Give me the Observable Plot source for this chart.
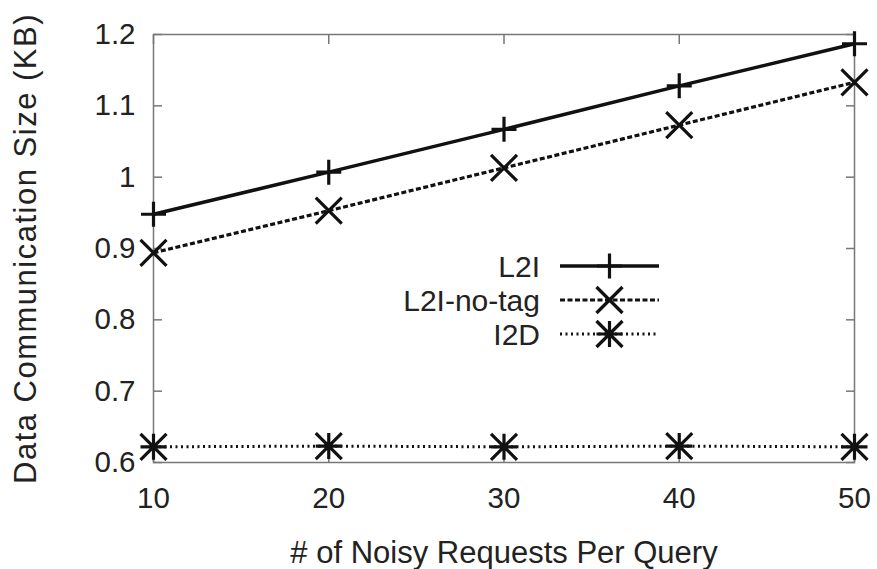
<!DOCTYPE html>
<html>
<head>
<meta charset="utf-8">
<script src="https://cdn.jsdelivr.net/npm/d3@7"></script>
<script src="https://cdn.jsdelivr.net/npm/@observablehq/plot@0.6"></script>
<style>
  html, body { margin: 0; padding: 0; background: #fff; }
  #chart { position: relative; width: 877px; height: 569px; }
  svg { font-family: "Liberation Sans", Arial, Helvetica, sans-serif; }
</style>
</head>
<body>
<div id="chart"></div>
<script>
// ---- data ----
const requests = [10, 20, 30, 40, 50];
const l2i      = [0.948, 1.007, 1.067, 1.128, 1.187];
const l2iNoTag = [0.894, 0.953, 1.013, 1.073, 1.133];
const i2d      = [0.622, 0.623, 0.622, 0.623, 0.622];
const seriesNames = ["L2I", "L2I-no-tag", "I2D"];
const yTicks = [0.6, 0.7, 0.8, 0.9, 1.0, 1.1, 1.2];
const xTicks = [10, 20, 30, 40, 50];
const xLabel = "# of Noisy Requests Per Query";
const yLabel = "Data Communication Size (KB)";

// ---- custom stroke symbols (size = pi r^2, arm length = r) ----
const plusSym = { draw(ctx, size) { const r = Math.sqrt(size / Math.PI);
  ctx.moveTo(-r, 0); ctx.lineTo(r, 0); ctx.moveTo(0, -r); ctx.lineTo(0, r); } };
const timesSym = { draw(ctx, size) { const r = Math.sqrt(size / Math.PI);
  ctx.moveTo(-r, -r); ctx.lineTo(r, r); ctx.moveTo(-r, r); ctx.lineTo(r, -r); } };
const starSym = { draw(ctx, size) { const r = Math.sqrt(size / Math.PI);
  ctx.moveTo(-r, 0); ctx.lineTo(r, 0); ctx.moveTo(0, -r); ctx.lineTo(0, r);
  ctx.moveTo(-r, -r); ctx.lineTo(r, r); ctx.moveTo(-r, r); ctx.lineTo(r, -r); } };

const styles = {
  "L2I":        { sym: plusSym,  r: 12.5, dash: null,    width: 3.5 },
  "L2I-no-tag": { sym: timesSym, r: 13,   dash: "5,2.5", width: 3.2 },
  "I2D":        { sym: starSym,  r: 13,   dash: "2,3.5", width: 3 }
};

const table = [];
[l2i, l2iNoTag, i2d].forEach((vals, s) => {
  vals.forEach((v, i) => table.push({ series: seriesNames[s], x: requests[i], y: v }));
});

const ink = "#111";
const frameColor = "#777";
const font = "Liberation Sans, Arial, sans-serif";
const fmt = d => String(+d.toFixed(1));

const marks = [];
seriesNames.forEach(name => {
  const st = styles[name];
  const d = table.filter(t => t.series === name);
  marks.push(Plot.line(d, { x: "x", y: "y", stroke: ink, strokeWidth: st.width,
    strokeDasharray: st.dash, strokeLinecap: "butt" }));
});
seriesNames.forEach(name => {
  const st = styles[name];
  const d = table.filter(t => t.series === name);
  marks.push(Plot.dot(d, { x: "x", y: "y", symbol: st.sym, r: st.r, fill: "none",
    stroke: ink, strokeWidth: 3.2 }));
});

const chart = Plot.plot({
  width: 877,
  height: 569,
  marginLeft: 153,
  marginRight: 23,
  marginTop: 34,
  marginBottom: 107,
  style: { fontFamily: font, background: "#fff", color: "#222" },
  x: { domain: [10, 50] },
  y: { domain: [0.6, 1.2] },
  marks: [
    Plot.axisY(yTicks, { anchor: "left", tickSize: -9, tickPadding: 27, fontSize: 29.5,
      tickFormat: fmt, stroke: frameColor, strokeWidth: 1.5, fill: "#222",
      label: yLabel, labelAnchor: "center", labelArrow: "none", labelOffset: 140 }),
    Plot.axisY(yTicks, { anchor: "right", tickSize: -9, tickFormat: () => "", stroke: frameColor,
      strokeWidth: 1.5, label: null }),
    Plot.axisX(xTicks, { anchor: "bottom", tickSize: -9, tickPadding: 34, fontSize: 29.5,
      stroke: frameColor, strokeWidth: 1.5, fill: "#222",
      label: xLabel, labelAnchor: "center", labelArrow: "none", labelOffset: 100 }),
    Plot.axisX(xTicks, { anchor: "top", tickSize: -9, tickFormat: () => "", stroke: frameColor,
      strokeWidth: 1.5, label: null }),
    Plot.frame({ stroke: frameColor, strokeWidth: 1.5 }),
    ...marks
  ]
});

document.getElementById("chart").appendChild(chart);

// ---- legend (drawn inside the svg) ----
const svg = d3.select(chart);
const leg = svg.append("g").attr("class", "legend");
const legTextX = 540, lineX1 = 560, lineX2 = 659, legY0 = 266, legStep = 34;
seriesNames.forEach((name, i) => {
  const st = styles[name];
  const y = legY0 + i * legStep;
  leg.append("text").attr("x", legTextX).attr("y", y).attr("dy", "0.36em")
    .attr("text-anchor", "end").attr("font-size", 30).attr("fill", "#222")
    .attr("font-family", font).text(name);
  leg.append("line").attr("x1", lineX1).attr("x2", lineX2).attr("y1", y).attr("y2", y)
    .attr("stroke", ink).attr("stroke-width", st.width)
    .attr("stroke-dasharray", st.dash);
  leg.append("path")
    .attr("d", d3.symbol(st.sym, Math.PI * st.r * st.r)())
    .attr("transform", `translate(${(lineX1 + lineX2) / 2},${y})`)
    .attr("fill", "none").attr("stroke", ink).attr("stroke-width", 3.2);
});
// axis title sizing
svg.selectAll("text").filter(function () { return this.textContent === yLabel; })
  .attr("font-size", 31).attr("letter-spacing", "1.5px");
svg.selectAll("text").filter(function () { return this.textContent === xLabel; })
  .attr("font-size", 31);
</script>
</body>
</html>
